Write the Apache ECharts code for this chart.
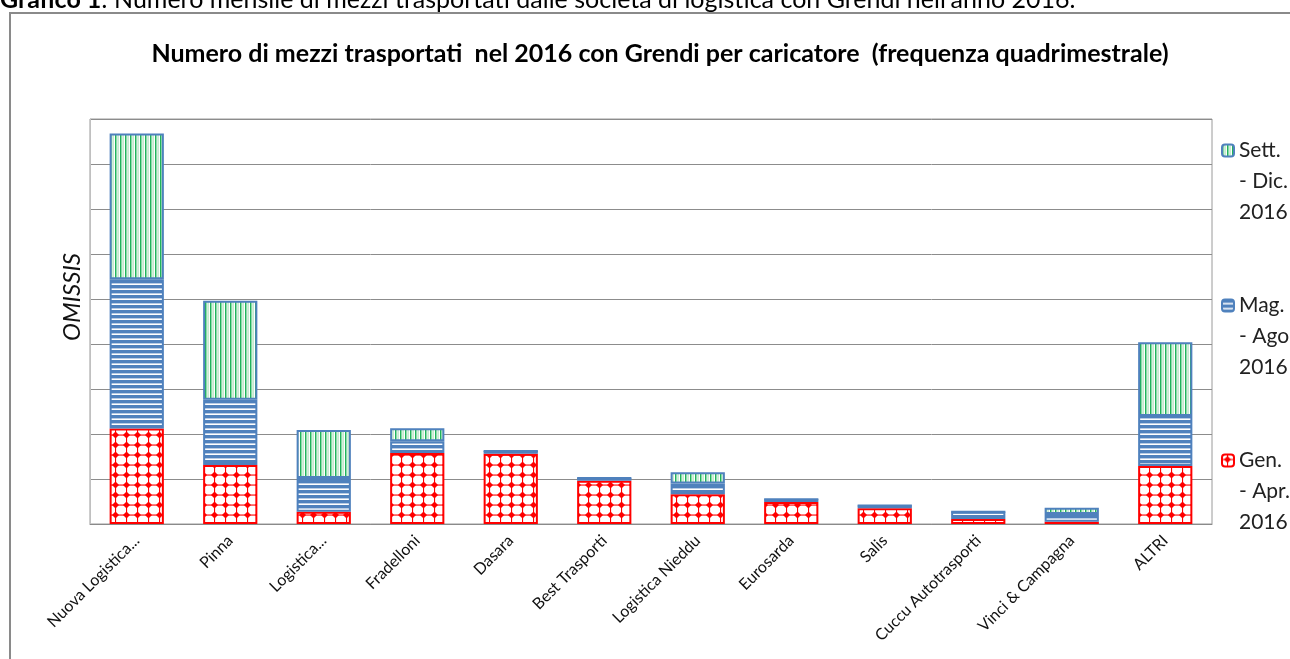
<!DOCTYPE html>
<html>
<head>
<meta charset="utf-8">
<script src="https://cdn.jsdelivr.net/npm/echarts@6/dist/echarts.min.js"></script>
<style>
  html, body { margin: 0; padding: 0; background: #fff; }
  #main { width: 1290px; height: 659px; }
</style>
</head>
<body>
<div id="main"></div>
<script>
// categorie (caricatori)
var categories = ['Nuova Logistica...', 'Pinna', 'Logistica...', 'Fradelloni', 'Dasara', 'Best Trasporti',
  'Logistica Nieddu', 'Eurosarda', 'Salis', 'Cuccu Autotrasporti', 'Vinci & Campagna', 'ALTRI'];
// valori omessi nell'originale: letti in unita' di griglia
var genApr  = [2.12, 1.31, 0.27, 1.58, 1.56, 0.96, 0.66, 0.49, 0.35, 0.11, 0.05, 1.29];
var magAgo  = [3.32, 1.45, 0.75, 0.26, 0.06, 0.06, 0.24, 0.06, 0.06, 0.16, 0.17, 1.11];
var settDic = [3.24, 2.20, 1.07, 0.29, 0, 0, 0.25, 0, 0, 0, 0.14, 1.64];
var seriesNames = ['Gen.\n- Apr.\n2016', 'Mag.\n- Ago\n2016', 'Sett.\n- Dic.\n2016'];

var FONT = 'Lato, "Open Sans", sans-serif';

// pattern tiles
function makeTile(w, h, draw) {
  var c = document.createElement('canvas');
  c.width = w; c.height = h;
  var ctx = c.getContext('2d');
  ctx.fillStyle = '#fff';
  ctx.fillRect(0, 0, w, h);
  draw(ctx, w, h);
  return c;
}
var redTile = makeTile(11, 10, function (ctx, w, h) {
  ctx.fillStyle = '#ff0000';
  ctx.beginPath();
  ctx.moveTo(5.5, 1.5); ctx.lineTo(9, 5); ctx.lineTo(5.5, 8.5); ctx.lineTo(2, 5);
  ctx.closePath(); ctx.fill();
  ctx.fillRect(5, 0, 1.1, h);
  ctx.fillRect(0, 4.5, w, 1.1);
});
var blueTile = makeTile(4, 5, function (ctx, w, h) {
  ctx.fillStyle = '#4f81bd';
  ctx.fillRect(0, 0, w, 3.4);
});
var greenTile = makeTile(5, 4, function (ctx, w, h) {
  ctx.fillStyle = '#1fb45a';
  ctx.fillRect(0, 0, 1.5, h);
  ctx.fillStyle = '#8fd6a0';
  ctx.fillRect(2.6, 0, 0.9, h);
});

var chart = echarts.init(document.getElementById('main'));
var option = {
  backgroundColor: '#fff',
  animation: false,
  title: {
    text: 'Numero di mezzi trasportati  nel 2016 con Grendi per caricatore  (frequenza quadrimestrale)',
    left: 655, top: 36, textAlign: 'center',
    textStyle: { fontFamily: FONT, fontSize: 25, fontWeight: 'bold', color: '#000' }
  },
  legend: {
    orient: 'vertical',
    left: 1216, top: 68,
    itemWidth: 12, itemHeight: 12, itemGap: 0,
    data: [seriesNames[2], seriesNames[1], seriesNames[0]],
    formatter: function (name) { return '\n\n' + name; },
    textStyle: { fontFamily: FONT, fontSize: 21, color: '#222', lineHeight: 31 }
  },
  grid: { left: 90, right: 78, top: 119, bottom: 135, show: true, borderColor: '#9a9a9a', borderWidth: 1 },
  xAxis: {
    type: 'category',
    data: categories,
    axisLine: { lineStyle: { color: '#8a8a8a', width: 1 } },
    axisTick: { show: false },
    axisLabel: { rotate: 45, fontFamily: FONT, fontSize: 16, color: '#111', margin: 14, interval: 0 }
  },
  yAxis: {
    type: 'value', min: 0, max: 9, interval: 1,
    axisLine: { show: true, lineStyle: { color: '#c0c0c0' } },
    axisTick: { show: false },
    axisLabel: { show: false },
    splitLine: { lineStyle: { color: '#8c8c8c', width: 1 } }
  },
  graphic: [
    { type: 'rect', shape: { x: 10, y: 13, width: 1400, height: 800 }, style: { fill: 'none', stroke: '#8a8a8a', lineWidth: 2 }, z: -10 },
    {
      type: 'text', x: 0, y: 12,
      style: {
        text: '{b|Grafico 1}: Numero mensile di mezzi trasportati dalle società di logistica con Grendi nell\'anno 2016.',
        font: '25px ' + FONT, fill: '#000', verticalAlign: 'bottom',
        rich: { b: { fontFamily: FONT, fontSize: 25, fontWeight: 'bold', fill: '#000' } }
      }
    },
    { type: 'text', x: 72, y: 297, rotation: Math.PI / 2, style: { text: 'OMISSIS', font: 'italic 24px ' + FONT, fill: '#111', align: 'center', verticalAlign: 'middle' } }
  ],
  series: [
    {
      name: seriesNames[0], type: 'bar', stack: 'tot', barCategoryGap: '42%',
      itemStyle: { color: { image: redTile, repeat: 'repeat' }, borderColor: '#ff0000', borderWidth: 2 },
      data: genApr
    },
    {
      name: seriesNames[1], type: 'bar', stack: 'tot',
      itemStyle: { color: { image: blueTile, repeat: 'repeat' }, borderColor: '#4f81bd', borderWidth: 2 },
      data: magAgo
    },
    {
      name: seriesNames[2], type: 'bar', stack: 'tot',
      itemStyle: { color: { image: greenTile, repeat: 'repeat' }, borderColor: '#4f81bd', borderWidth: 2 },
      data: settDic
    }
  ]
};
chart.setOption(option);
</script>
</body>
</html>
